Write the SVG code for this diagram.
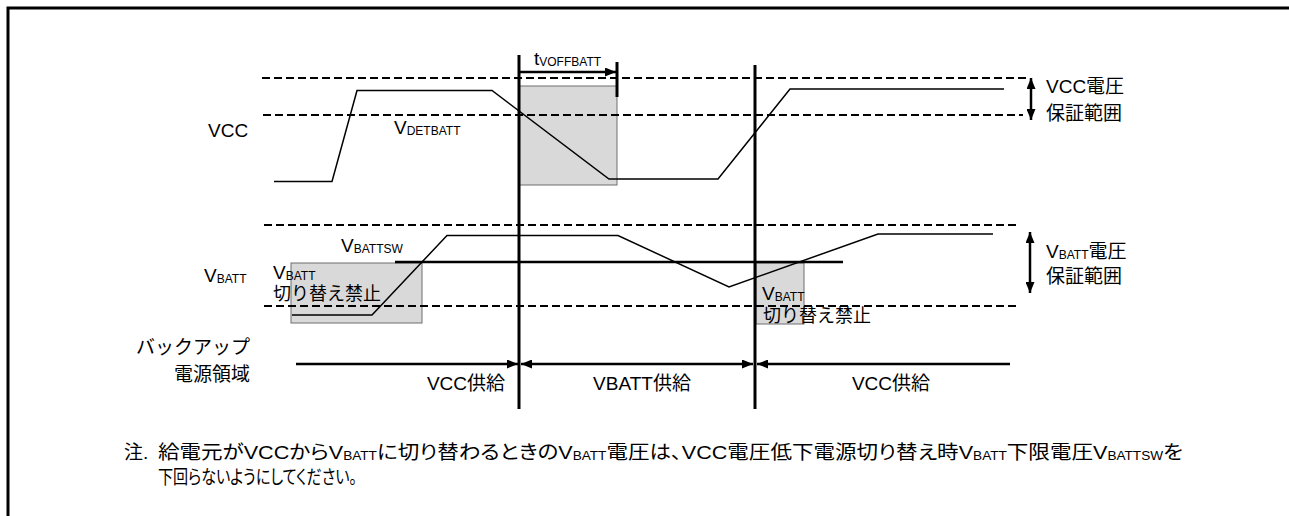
<svg xmlns="http://www.w3.org/2000/svg" width="1289" height="516" viewBox="0 0 1289 516">
<style>
.t{font-family:"Liberation Sans","Noto Sans CJK JP",sans-serif;font-size:19px;fill:#000}
.s{font-size:12px}
.n{font-family:"Liberation Sans Narrow","Liberation Sans","Noto Sans CJK JP",sans-serif;font-size:19px;fill:#000;font-feature-settings:"palt" 1}
.k{font-size:18px}
.dash{stroke:#000;stroke-width:2;stroke-dasharray:8 4;fill:none}
.wave{stroke:#000;stroke-width:1.5;fill:none;stroke-linejoin:miter}
.box{fill:#d9d9d9;stroke:#6e6e6e;stroke-width:1}
.vl{stroke:#000;stroke-width:3;fill:none}
.ar{stroke:#000;stroke-width:2.5;fill:none}
</style>
<defs>
<marker id="ah" markerWidth="11" markerHeight="9" refX="11" refY="4.5" orient="auto-start-reverse" markerUnits="userSpaceOnUse"><path d="M0,0 L11,4.5 L0,9 z" fill="#000"/></marker>
</defs>
<rect width="1289" height="516" fill="#fff"/>
<g id="frame"><path d="M8,516 V8 H1289" stroke="#000" stroke-width="3" fill="none"/></g>

<g id="box-toff"><rect class="box" x="519" y="86" width="98" height="99"/></g>
<g id="box-inhibit-1"><rect class="box" x="291" y="263" width="131" height="60"/></g>
<g id="box-inhibit-2"><rect class="box" x="756" y="263" width="48" height="61"/></g>

<g id="connectors">
  <line class="dash" x1="262" y1="78" x2="1027" y2="78"/>
  <line class="dash" x1="263" y1="115" x2="1023" y2="115"/>
  <line class="dash" x1="264" y1="225" x2="1020" y2="225"/>
  <line class="dash" x1="264" y1="306" x2="1020" y2="306"/>
  <line x1="395" y1="262" x2="843" y2="262" stroke="#000" stroke-width="2.5"/>
  <path id="vcc-wave" class="wave" d="M274,181.5 L332,181.5 L357,90.5 L492,90.5 L609,179 L718,179 L790,89 L1004,89"/>
  <path id="vbatt-wave" class="wave" d="M292,315 L372,315 L447,235.5 L618,235.5 L729,287 L878,234 L993,234"/>
  <line class="vl" x1="519" y1="55" x2="519" y2="409"/>
  <line class="vl" x1="755" y1="65" x2="755" y2="409"/>
  <line class="vl" x1="617" y1="62" x2="617" y2="97"/>
  <line class="ar" x1="519" y1="72" x2="616" y2="72" marker-end="url(#ah)"/>
  <line class="ar" x1="296" y1="364" x2="518" y2="364" marker-end="url(#ah)"/>
  <line class="ar" x1="521" y1="364" x2="753" y2="364" marker-start="url(#ah)" marker-end="url(#ah)"/>
  <line class="ar" x1="757" y1="364" x2="1010" y2="364" marker-start="url(#ah)"/>
  <line class="ar" x1="1031" y1="78" x2="1031" y2="120" marker-start="url(#ah)" marker-end="url(#ah)"/>
  <line class="ar" x1="1030" y1="232" x2="1030" y2="293" marker-start="url(#ah)" marker-end="url(#ah)"/>
</g>

<g id="labels">
  <text class="t" x="208" y="137">VCC</text>
  <text class="t" x="394" y="134">V<tspan class="s" dy="1">DETBATT</tspan></text>
  <text class="t" x="534" y="65">t<tspan class="s" dy="1">VOFFBATT</tspan></text>
  <text class="t" x="1046" y="93">VCC電圧</text>
  <text class="t" x="1046" y="120">保証範囲</text>
  <text class="t" x="204" y="282">V<tspan class="s" dy="1">BATT</tspan></text>
  <text class="t" x="341" y="252">V<tspan class="s" dy="1">BATTSW</tspan></text>
  <text class="t" x="273" y="279">V<tspan class="s" dy="1">BATT</tspan></text>
  <text class="t k" x="273" y="300">切り替え禁止</text>
  <text class="t" x="762" y="300">V<tspan class="s" dy="1">BATT</tspan></text>
  <text class="t k" x="763" y="322">切り替え禁止</text>
  <text class="t" x="1046" y="258">V<tspan class="s" dy="1">BATT</tspan><tspan dy="-1">電圧</tspan></text>
  <text class="t" x="1046" y="283">保証範囲</text>
  <text class="t" x="250" y="354" text-anchor="end">バックアップ</text>
  <text class="t" x="250" y="381" text-anchor="end">電源領域</text>
  <text class="t" x="505" y="390" text-anchor="end">VCC供給</text>
  <text class="t" x="642" y="390" text-anchor="middle">VBATT供給</text>
  <text class="t" x="930" y="390" text-anchor="end">VCC供給</text>
</g>

<g id="note">
  <text class="n" x="124" y="459">注.</text>
  <text class="n" x="158" y="459" textLength="1025" lengthAdjust="spacingAndGlyphs">給電元がVCCからV<tspan class="s" dy="1">BATT</tspan><tspan dy="-1">に切り替わるときのV</tspan><tspan class="s" dy="1">BATT</tspan><tspan dy="-1">電圧は、VCC電圧低下電源切り替え時V</tspan><tspan class="s" dy="1">BATT</tspan><tspan dy="-1">下限電圧V</tspan><tspan class="s" dy="1">BATTSW</tspan><tspan dy="-1">を</tspan></text>
  <text class="n" x="158" y="484" textLength="199" lengthAdjust="spacingAndGlyphs">下回らないようにしてください。</text>
</g>
</svg>
